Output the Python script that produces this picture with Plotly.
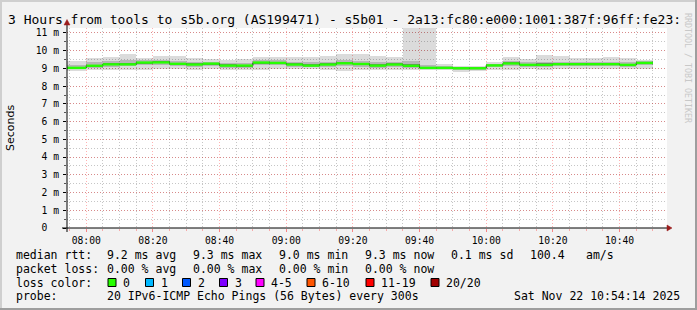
import pandas as pd
import plotly.graph_objects as go

DAY = "2025-11-22"
RANGE_START = "07:54:14"
RANGE_END = "10:54:14"

# step boundaries (each value covers [t_k, t_k+1))
step_times = ["07:54:14", "08:00", "08:05", "08:10", "08:15", "08:20", "08:25", "08:30",
              "08:35", "08:40", "08:45", "08:50", "08:55", "09:00", "09:05", "09:10",
              "09:15", "09:20", "09:25", "09:30", "09:35", "09:40", "09:45", "09:50",
              "09:55", "10:00", "10:05", "10:10", "10:15", "10:20", "10:25", "10:30",
              "10:35", "10:40", "10:45", "10:50"]

# RTT in milliseconds
rtt_median = [9.03, 9.15, 9.23, 9.23, 9.33, 9.34, 9.26, 9.22, 9.27, 9.16, 9.16, 9.33,
              9.31, 9.22, 9.16, 9.22, 9.29, 9.25, 9.16, 9.22, 9.15, 9.03, 9.03, 9.01,
              9.01, 9.17, 9.28, 9.20, 9.20, 9.24, 9.24, 9.24, 9.24, 9.20, 9.31]
rtt_max = [9.43, 9.59, 9.66, 9.80, 9.60, 9.72, 9.72, 9.60, 9.52, 9.50, 9.51, 9.66,
           9.66, 9.66, 9.66, 9.72, 9.83, 9.79, 9.72, 9.65, 13.0, 13.0, 9.26, 9.13,
           9.12, 9.35, 9.63, 9.55, 9.76, 9.70, 9.57, 9.57, 9.62, 9.57, 9.50]
rtt_min = [8.87, 8.91, 8.93, 8.93, 8.93, 8.97, 8.97, 8.93, 8.95, 8.91, 8.91, 8.93,
           8.95, 8.95, 8.97, 8.93, 8.87, 8.91, 8.93, 8.93, 8.89, 8.92, 8.89, 8.80,
           8.84, 8.93, 8.93, 8.97, 8.93, 8.95, 8.95, 8.95, 8.95, 8.95, 8.95]
rtt_p90 = [9.20, 9.35, 9.40, 9.45, 9.45, 9.48, 9.42, 9.38, 9.38, 9.32, 9.30, 9.45,
           9.45, 9.38, 9.34, 9.38, 9.45, 9.42, 9.34, 9.38, 9.40, 9.22, 9.14, 9.07,
           9.06, 9.26, 9.42, 9.35, 9.38, 9.38, 9.36, 9.36, 9.38, 9.34, 9.40]
rtt_p10 = [8.96, 9.04, 9.10, 9.12, 9.18, 9.20, 9.14, 9.10, 9.14, 9.04, 9.03, 9.18,
           9.17, 9.10, 9.06, 9.10, 9.14, 9.10, 9.05, 9.10, 9.02, 8.98, 8.96, 8.93,
           8.93, 9.06, 9.14, 9.08, 9.08, 9.12, 9.12, 9.12, 9.12, 9.08, 9.18]
rtt_p75 = [9.08, 9.22, 9.30, 9.31, 9.38, 9.40, 9.33, 9.29, 9.32, 9.23, 9.22, 9.38,
           9.37, 9.29, 9.23, 9.29, 9.35, 9.32, 9.23, 9.29, 9.24, 9.09, 9.07, 9.04,
           9.04, 9.22, 9.34, 9.27, 9.28, 9.30, 9.30, 9.30, 9.30, 9.27, 9.36]
rtt_p25 = [8.99, 9.10, 9.18, 9.18, 9.27, 9.29, 9.21, 9.17, 9.22, 9.11, 9.10, 9.27,
           9.26, 9.17, 9.11, 9.17, 9.23, 9.19, 9.11, 9.17, 9.09, 9.00, 8.99, 8.97,
           8.97, 9.12, 9.23, 9.15, 9.15, 9.19, 9.19, 9.19, 9.19, 9.15, 9.26]

y_tick_values = [0, 1, 2, 3, 4, 5, 6, 7, 8, 9, 10, 11]
y_tick_labels = ["0\u00a0\u00a0", "1 m", "2 m", "3 m", "4 m", "5 m", "6 m", "7 m",
                 "8 m", "9 m", "10 m", "11 m"]

title_text = "3 Hours from tools to s5b.org (AS199471) - s5b01 - 2a13:fc80:e000:1001:387f:96ff:fe23:"
rtt_stats = ["9.2 ms avg", "9.3 ms max", "9.0 ms min", "9.3 ms now", "0.1 ms sd", "100.4", "am/s"]
loss_stats = ["0.00 % avg", "0.00 % max", "0.00 % min", "0.00 % now"]
loss_labels = ["0", "1", "2", "3", "4-5", "6-10", "11-19", "20/20"]
loss_colors = ["#26ff00", "#00b8ff", "#0059ff", "#7e00ff", "#ff00ff", "#ff5500", "#ff0000", "#a10000"]
probe_text = "20 IPv6-ICMP Echo Pings (56 Bytes) every 300s"
date_text = "Sat Nov 22 10:54:14 2025"

# ---------------------------------------------------------------------------
t = pd.to_datetime([f"{DAY} {s}" for s in step_times], format="mixed")
starts, ends = list(t[:-1]), list(t[1:])
centers = [s + (e - s) / 2 for s, e in zip(starts, ends)]
widths = [(e - s).total_seconds() * 1000 for s, e in zip(starts, ends)]

fig = go.Figure()

bands = [(rtt_min, rtt_max, "rgba(0,0,0,0.14)"),
         (rtt_p10, rtt_p90, "rgba(0,0,0,0.17)"),
         (rtt_p25, rtt_p75, "rgba(0,0,0,0.34)")]
for lo, hi, col in bands:
    fig.add_trace(go.Bar(x=centers, base=lo, y=[h - l for l, h in zip(lo, hi)],
                         width=widths, marker=dict(color=col, line=dict(width=0)),
                         hoverinfo="skip"))

# dark stepped median (visible at transitions)
fig.add_trace(go.Scatter(x=starts + [ends[-1]], y=rtt_median + [rtt_median[-1]],
                         mode="lines", line=dict(color="#1a1a1a", width=1, shape="hv"),
                         hoverinfo="skip"))
# loss-coloured median band
gx, gy = [], []
for s, e, m in zip(starts, ends, rtt_median):
    gx += [s, e, None]
    gy += [m, m, None]
fig.add_trace(go.Scatter(x=gx, y=gy, mode="lines", line=dict(color=loss_colors[0], width=2.4),
                         hoverinfo="skip", connectgaps=False))

L, R, T, B = 67, 667, 28, 228
W, H = 697, 310


def px(x):
    return (x - L) / (R - L)


def py(y):
    return (B - y) / (B - T)


grid_major = "rgba(255,0,0,0.30)"
grid_minor = "rgba(120,120,120,0.42)"
mono = "DejaVu Sans Mono"

fig.update_layout(
    width=W, height=H, margin=dict(l=L, r=W - R, t=T, b=H - B),
    paper_bgcolor="#f2f2f2", plot_bgcolor="#ffffff", showlegend=False,
    barmode="overlay", bargap=0,
    xaxis=dict(type="date", range=[f"{DAY} {RANGE_START}", f"{DAY} {RANGE_END}"],
               tick0=f"{DAY} 08:00", dtick=1200000, tickformat="%H:%M",
               showgrid=True, gridcolor=grid_major, griddash="1px,2px", gridwidth=1,
               ticks="outside", ticklen=3, tickcolor="rgba(255,0,0,0.45)",
               tickfont=dict(family=mono, size=9.7, color="#000"),
               showline=False, zeroline=False, fixedrange=True,
               minor=dict(dtick=300000, tick0=f"{DAY} 08:00", showgrid=True,
                          gridcolor=grid_minor, griddash="1px,2px",
                          ticks="outside", ticklen=2, tickcolor="rgba(255,0,0,0.3)")),
    yaxis=dict(range=[0, 11.28], tickvals=y_tick_values, ticktext=y_tick_labels,
               showgrid=True, gridcolor=grid_major, griddash="1px,2px",
               ticks="outside", ticklen=3, tickcolor="#000", ticklabelstandoff=2,
               tickfont=dict(family=mono, size=9.7, color="#000"),
               showline=False, zeroline=False, fixedrange=True,
               minor=dict(dtick=0.5, tick0=0, showgrid=True, gridcolor=grid_minor,
                          griddash="1px,2px", ticks="outside", ticklen=2, tickcolor="#555")),
)

shapes = []
# 3D frame
shapes.append(dict(type="rect", xref="paper", yref="paper", x0=px(0), x1=px(W), y0=py(0), y1=py(2),
                   fillcolor="#cfcfcf", line=dict(width=0), layer="above"))
shapes.append(dict(type="rect", xref="paper", yref="paper", x0=px(0), x1=px(2), y0=py(0), y1=py(H),
                   fillcolor="#cfcfcf", line=dict(width=0), layer="above"))
shapes.append(dict(type="rect", xref="paper", yref="paper", x0=px(0), x1=px(W), y0=py(H - 2), y1=py(H),
                   fillcolor="#9e9e9e", line=dict(width=0), layer="above"))
shapes.append(dict(type="rect", xref="paper", yref="paper", x0=px(W - 2), x1=px(W), y0=py(0), y1=py(H),
                   fillcolor="#9e9e9e", line=dict(width=0), layer="above"))
# axes
shapes.append(dict(type="line", xref="paper", yref="paper", x0=px(62), x1=px(669), y0=py(228), y1=py(228),
                   line=dict(color="#000", width=1), layer="above"))
shapes.append(dict(type="line", xref="paper", yref="paper", x0=px(67), x1=px(67), y0=py(232), y1=py(24),
                   line=dict(color="#000", width=1), layer="above"))
arrow_col = "#9b1c1c"
shapes.append(dict(type="path", xref="paper", yref="paper",
                   path=f"M {px(667)},{py(225)} L {px(672)},{py(228)} L {px(667)},{py(231)} Z",
                   fillcolor=arrow_col, line=dict(color=arrow_col, width=0.5), layer="above"))
shapes.append(dict(type="path", xref="paper", yref="paper",
                   path=f"M {px(64)},{py(25)} L {px(67)},{py(19.5)} L {px(70)},{py(25)} Z",
                   fillcolor=arrow_col, line=dict(color=arrow_col, width=0.5), layer="above"))
# loss colour boxes
box_x = [108, 145.5, 182.5, 219.5, 256, 307, 366, 431]
for bx, col in zip(box_x, loss_colors):
    shapes.append(dict(type="rect", xref="paper", yref="paper", x0=px(bx), x1=px(bx + 8),
                       y0=py(278.5), y1=py(286.5), fillcolor=col,
                       line=dict(color="#000", width=1), layer="above"))
fig.update_layout(shapes=shapes)


def text(x, y, s, size=11.5, anchor="left", family=mono, color="#000", angle=0):
    fig.add_annotation(x=px(x), y=py(y), xref="paper", yref="paper", text=s, showarrow=False,
                       xanchor=anchor, yanchor="middle", borderpad=0, borderwidth=0,
                       textangle=angle, font=dict(family=family, size=size, color=color))


text(8, 19.5, title_text, size=13)
text(10.5, 128.5, "Seconds", size=11, anchor="center", family="DejaVu Sans", angle=-90)
text(688, 68, "RRDTOOL / TOBI OETIKER", size=8.3, anchor="center", color="#c8c8c8", angle=90)

row_y = [254.5, 268.5, 282.5, 296]
text(16, row_y[0], "median rtt:")
for xx, s in zip([107, 193, 279, 365, 451, 530, 586], rtt_stats):
    text(xx, row_y[0], s)
text(16, row_y[1], "packet loss:")
for xx, s in zip([107, 193, 279, 365], loss_stats):
    text(xx, row_y[1], s)
text(16, row_y[2], "loss color:")
for bx, s in zip(box_x, loss_labels):
    text(bx + 15, row_y[2], s)
text(16, row_y[3], "probe:")
text(107, row_y[3], probe_text)
text(680, row_y[3], date_text, anchor="right")

fig.write_html("out.html")
